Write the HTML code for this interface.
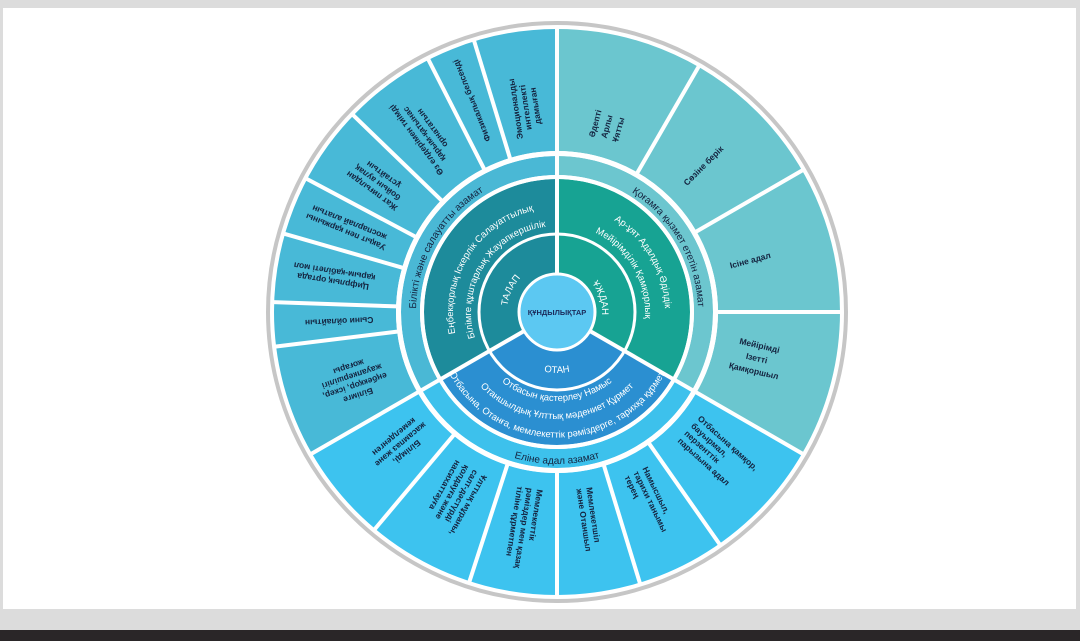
<!DOCTYPE html>
<html><head><meta charset="utf-8"><style>
html,body{margin:0;padding:0;}
body{width:1080px;height:641px;background:#dcdcdc;position:relative;overflow:hidden;font-family:"Liberation Sans","Noto Sans CJK SC",sans-serif;}
#panel{position:absolute;left:3px;top:8px;width:1073px;height:601px;background:#fff;}
#bar{position:absolute;left:0;top:630px;width:1080px;height:11px;background:#2a2628;}
svg{position:absolute;left:0;top:0;}
.o{font-size:8.5px;fill:#14233f;text-anchor:middle;font-weight:bold;}
.os{font-size:8.5px;fill:#14233f;text-anchor:start;font-weight:bold;}
.l{font-size:10px;fill:#14233f;}
.w{font-size:9.5px;fill:#fff;}
</style></head><body>
<div id="panel"></div><div id="bar"></div>
<svg width="1080" height="641" viewBox="0 0 1080 641">
<defs>
<path id="pL" d="M434.9,382.5 A141,141 0 0 1 557,171"/>
<path id="pR" d="M557,171 A141,141 0 0 1 679.1,382.5"/>
<path id="pB" d="M425.4,388 A152,152 0 0 0 688.6,388"/>
<path id="pO" d="M504.2,342.5 A61,61 0 0 0 609.8,342.5"/>
<path id="pO1" d="M478.4,353.8 A89,89 0 0 0 635.6,353.8"/>
<path id="pO2" d="M462.5,362.2 A107,107 0 0 0 651.5,362.2"/>
<path id="pO3" d="M443.5,362 A123,123 0 0 0 670.5,362"/>
<path id="pT" d="M511.7,333.1 A50,50 0 0 1 544.1,263.7"/>
<path id="pT1" d="M459.3,347.6 A104,104 0 0 1 547.9,208.4"/>
<path id="pT2" d="M476.2,341.4 A86,86 0 0 1 549.5,226.3"/>
<path id="pU" d="M574.5,270.3 A45,45 0 0 1 595.1,335.8"/>
<path id="pU1" d="M566.4,204.4 A108,108 0 0 1 654.9,357.6"/>
<path id="pU2" d="M564.7,224.3 A88,88 0 0 1 636.8,349.2"/>
</defs>
<circle cx="557" cy="312" r="289" fill="#fff" stroke="#c6c6c6" stroke-width="4"/>
<g fill="none">
<circle cx="557" cy="312" r="222" stroke="#48b9d7" stroke-width="122" pathLength="360" stroke-dasharray="120 240" stroke-dashoffset="-150"/>
<circle cx="557" cy="312" r="222" stroke="#6bc6cf" stroke-width="122" pathLength="360" stroke-dasharray="120 240" stroke-dashoffset="-270"/>
<circle cx="557" cy="312" r="222" stroke="#3dc3ef" stroke-width="122" pathLength="360" stroke-dasharray="120 240" stroke-dashoffset="-30"/>
<circle cx="557" cy="312" r="146.5" stroke="#4ab8d5" stroke-width="19" pathLength="360" stroke-dasharray="120 240" stroke-dashoffset="-150"/>
<circle cx="557" cy="312" r="146.5" stroke="#6cc6cf" stroke-width="19" pathLength="360" stroke-dasharray="120 240" stroke-dashoffset="-270"/>
<circle cx="557" cy="312" r="146.5" stroke="#3dc1ec" stroke-width="19" pathLength="360" stroke-dasharray="120 240" stroke-dashoffset="-30"/>
<circle cx="557" cy="312" r="106" stroke="#1d8b9b" stroke-width="54" pathLength="360" stroke-dasharray="120 240" stroke-dashoffset="-150"/>
<circle cx="557" cy="312" r="106" stroke="#17a393" stroke-width="54" pathLength="360" stroke-dasharray="120 240" stroke-dashoffset="-270"/>
<circle cx="557" cy="312" r="106" stroke="#2b8fd1" stroke-width="54" pathLength="360" stroke-dasharray="120 240" stroke-dashoffset="-30"/>
<circle cx="557" cy="312" r="58" stroke="#1d8b9b" stroke-width="38" pathLength="360" stroke-dasharray="120 240" stroke-dashoffset="-150"/>
<circle cx="557" cy="312" r="58" stroke="#17a393" stroke-width="38" pathLength="360" stroke-dasharray="120 240" stroke-dashoffset="-270"/>
<circle cx="557" cy="312" r="58" stroke="#2b8fd1" stroke-width="38" pathLength="360" stroke-dasharray="120 240" stroke-dashoffset="-30"/>
<circle cx="557" cy="312" r="158.5" stroke="#fff" stroke-width="5"/>
<circle cx="557" cy="312" r="135" stroke="#fff" stroke-width="4"/>
<circle cx="557" cy="312" r="78" stroke="#fff" stroke-width="3"/>
</g>
<circle cx="557" cy="312" r="38" fill="#5cc8f2" stroke="#fff" stroke-width="3"/>
<g stroke="#fff" stroke-width="4">
<g transform="translate(557 312)">
<line x1="38" y1="0" x2="284" y2="0" transform="rotate(30)"/>
<line x1="38" y1="0" x2="284" y2="0" transform="rotate(150)"/>
<line x1="38" y1="0" x2="284" y2="0" transform="rotate(270)"/>
<line x1="160" y1="0" x2="284" y2="0" transform="rotate(300)"/>
<line x1="160" y1="0" x2="284" y2="0" transform="rotate(330)"/>
<line x1="160" y1="0" x2="284" y2="0" transform="rotate(0)"/>
<line x1="160" y1="0" x2="284" y2="0" transform="rotate(55)"/>
<line x1="160" y1="0" x2="284" y2="0" transform="rotate(73)"/>
<line x1="160" y1="0" x2="284" y2="0" transform="rotate(90)"/>
<line x1="160" y1="0" x2="284" y2="0" transform="rotate(108)"/>
<line x1="160" y1="0" x2="284" y2="0" transform="rotate(130)"/>
<line x1="160" y1="0" x2="284" y2="0" transform="rotate(173)"/>
<line x1="160" y1="0" x2="284" y2="0" transform="rotate(182)"/>
<line x1="160" y1="0" x2="284" y2="0" transform="rotate(196)"/>
<line x1="160" y1="0" x2="284" y2="0" transform="rotate(208)"/>
<line x1="160" y1="0" x2="284" y2="0" transform="rotate(224)"/>
<line x1="160" y1="0" x2="284" y2="0" transform="rotate(243)"/>
<line x1="160" y1="0" x2="284" y2="0" transform="rotate(253)"/>
</g></g>
<text x="557" y="315" text-anchor="middle" font-size="7.5" font-weight="bold" fill="#1b2b5b">ҚҰНДЫЛЫҚТАР</text>
<text class="w" font-size="12"><textPath href="#pO" startOffset="50%" text-anchor="middle">ОТАН</textPath></text>
<text class="w" font-size="12"><textPath href="#pT" startOffset="50%" text-anchor="middle">ТАЛАП</textPath></text>
<text class="w" font-size="12"><textPath href="#pU" startOffset="50%" text-anchor="middle">ҰЖДАН</textPath></text>
<text class="w"><textPath href="#pO1" startOffset="50%" text-anchor="middle">Отбасын қастерлеу   Намыс</textPath></text>
<text class="w"><textPath href="#pO2" startOffset="50%" text-anchor="middle">Отаншылдық   Ұлттық мәдениет   Құрмет</textPath></text>
<text class="w" font-size="7.2"><textPath href="#pO3" startOffset="50%" text-anchor="middle">Отбасына, Отанға, мемлекеттік рәміздерге, тарихқа құрмет</textPath></text>
<text class="w"><textPath href="#pT1" startOffset="50%" text-anchor="middle">Еңбекқорлық   Іскерлік   Салауаттылық</textPath></text>
<text class="w"><textPath href="#pT2" startOffset="50%" text-anchor="middle">Білімге құштарлық   Жауапкершілік</textPath></text>
<text class="w" font-size="10.5"><textPath href="#pU1" startOffset="50%" text-anchor="middle">Ар-ұят      Адалдық      Әділдік</textPath></text>
<text class="w" font-size="10.5"><textPath href="#pU2" startOffset="50%" text-anchor="middle">Мейірімділік   Қамқорлық</textPath></text>
<text class="l"><textPath href="#pL" startOffset="50%" text-anchor="middle">Білікті және салауатты азамат</textPath></text>
<text class="l"><textPath href="#pR" startOffset="50%" text-anchor="middle">Қоғамға қызмет ететін азамат</textPath></text>
<text class="l"><textPath href="#pB" startOffset="50%" text-anchor="middle">Еліне адал азамат</textPath></text>
<g transform="translate(557 312)">
<g transform="rotate(285) translate(192 0)"><text class="o" y="-9">Әдепті</text><text class="o" y="3">Арлы</text><text class="o" y="15">Ұятты</text></g>
<g transform="rotate(315) translate(207 0)"><text class="o" y="3">Сөзіне берік</text></g>
<g transform="rotate(345) translate(200 0)"><text class="o" y="3">Ісіне адал</text></g>
<g transform="rotate(13) translate(205 0)"><text class="o" y="-10">Мейірімді</text><text class="o" y="3">Ізетті</text><text class="o" y="16">Қамқоршыл</text></g>
<g transform="rotate(42) translate(176 0)"><text class="os" y="-14">Отбасына қамқор,</text><text class="os" y="-4">бауырмал,</text><text class="os" y="6">перзенттік</text><text class="os" y="16">парызына адал</text></g>
<g transform="rotate(64) translate(178 0)"><text class="os" y="-8">Намысшыл,</text><text class="os" y="2">тарихи танымы</text><text class="os" y="12">терең</text></g>
<g transform="rotate(81.5) translate(178 0)"><text class="os" y="-3">Мемлекетшіл</text><text class="os" y="7">және Отаншыл</text></g>
<g transform="rotate(99) translate(178 0)"><text class="os" y="-8">Мемлекеттік</text><text class="os" y="2">рәміздер мен қазақ</text><text class="os" y="12">тіліне құрметпен</text></g>
<g transform="rotate(119) translate(178 0)"><text class="os" y="-13">Ұлттық мұраны,</text><text class="os" y="-3">салт-дәстүрді</text><text class="os" y="7">қолдауға және</text><text class="os" y="17">насихаттауға</text></g>
<g transform="rotate(140) translate(205 0)"><text class="o" y="-8">Білімді,</text><text class="o" y="2">жасампаз және</text><text class="o" y="12">кемелденген</text></g>
<g transform="rotate(161.5) translate(215 0)"><text class="o" y="-13">Білімге</text><text class="o" y="-3">еңбекқор, іскер,</text><text class="o" y="7">жауапкершілігі</text><text class="o" y="17">жоғары</text></g>
<g transform="rotate(177.5) translate(218 0)"><text class="o" y="3">Сыни ойлайтын</text></g>
<g transform="rotate(189) translate(226 0)"><text class="o" y="-2">Цифрлық ортада</text><text class="o" y="8">қарым-қабілеті мол</text></g>
<g transform="rotate(202) translate(226 0)"><text class="o" y="-2">Уақыт пен қаржыны</text><text class="o" y="8">жоспарлай алатын</text></g>
<g transform="rotate(216) translate(221 0)"><text class="o" y="-8">Жат пиғылдан</text><text class="o" y="2">бойын аулақ</text><text class="o" y="12">ұстайтын</text></g>
<g transform="rotate(233.5) translate(222 0)"><text class="o" y="-8">Өз елдерімен тиімді</text><text class="o" y="2">қарым-қатынас</text><text class="o" y="12">орнататын</text></g>
<g transform="rotate(248) translate(228 0)"><text class="o" y="3">Физикалық белсенді</text></g>
<g transform="rotate(261.5) translate(207 0)"><text class="o" y="-8">Эмоционалды</text><text class="o" y="2">интеллекті</text><text class="o" y="12">дамыған</text></g>
</g>
</svg>
</body></html>
